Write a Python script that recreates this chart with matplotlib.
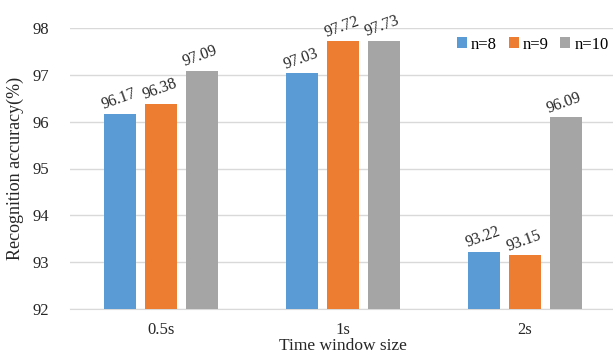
import numpy as np
import matplotlib.pyplot as plt

plt.rcParams['font.family'] = ['Liberation Serif', 'DejaVu Serif']

windows = ["0.5s", "1s", "2s"]
series = ["n=8", "n=9", "n=10"]
acc_n8 = [96.17, 97.03, 93.22]
acc_n9 = [96.38, 97.72, 93.15]
acc_n10 = [97.09, 97.73, 96.09]
colors = ["#5B9BD5", "#ED7D31", "#A5A5A5"]

fig = plt.figure(figsize=(6.13, 3.59), dpi=100)
ax = fig.add_axes([70 / 613, 1 - 309 / 359, 546 / 613, 281 / 359])

x = np.arange(len(windows))
w = 0.174
step = 0.224
for i, (vals, name) in enumerate(zip([acc_n8, acc_n9, acc_n10], series)):
    pos = x + (i - 1) * step
    ax.bar(pos, np.array(vals) - 92, w, bottom=92, color=colors[i], label=name, zorder=3)
    for px, v in zip(pos, vals):
        ax.annotate(f"{v:.2f}", (px, v), xytext=(-1, 0.5), textcoords="offset points",
                    ha="center", va="bottom", rotation=20, fontsize=11.5, color="#262626")

ax.set_xlim(-0.5, 2.5)
ax.set_ylim(92, 98)
ax.set_yticks(range(92, 99))
ax.set_xticks(x)
ax.set_xticklabels(windows)
ax.tick_params(length=0, labelsize=12, colors="#262626")
ax.tick_params(axis="x", pad=9)
ax.tick_params(axis="y", pad=15)
ax.grid(axis="y", color="#D9D9D9", linewidth=1, zorder=0)
for s in ["top", "right", "left"]:
    ax.spines[s].set_visible(False)
ax.spines["bottom"].set_color("#D9D9D9")
ax.set_xlabel("Time window size", fontsize=12.5, labelpad=0, color="#262626")
ax.set_ylabel("Recognition accuracy(%)", fontsize=13, labelpad=6, color="#262626")

fig.legend(loc="upper left", bbox_to_anchor=(450 / 613, 1 - 30 / 359), ncol=3, frameon=False,
           fontsize=12, handlelength=0.6, handleheight=0.6, handletextpad=0.25,
           columnspacing=0.7, borderaxespad=0)

fig.savefig("out.png", dpi=100)
